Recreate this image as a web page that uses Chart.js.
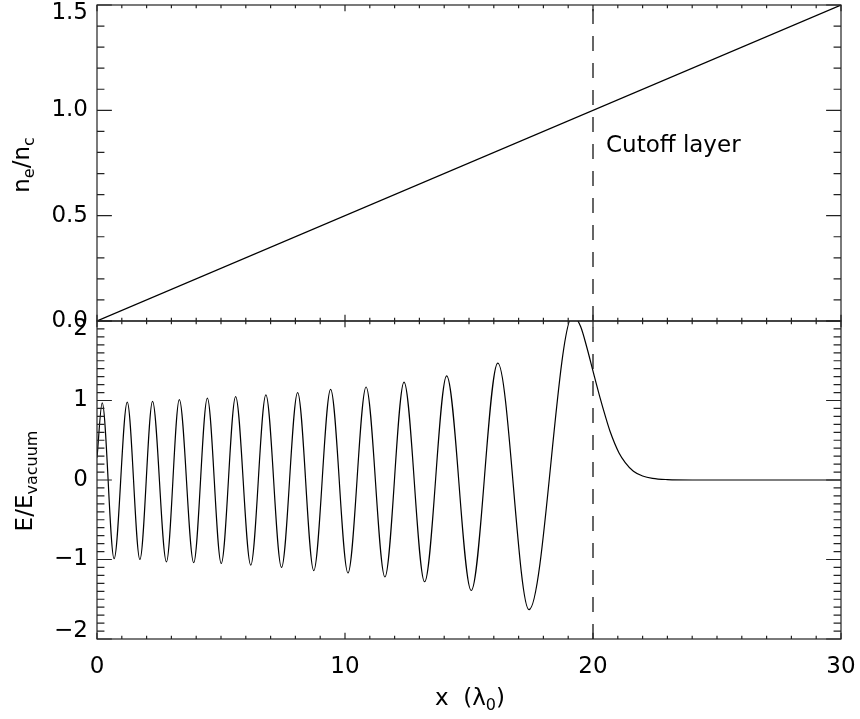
<!DOCTYPE html>
<html>
<head>
<meta charset="utf-8">
<script src="https://cdn.jsdelivr.net/npm/chart.js@4.4.1/dist/chart.umd.min.js"></script>
<style>
  html, body { margin: 0; padding: 0; background: #fff; }
  #wrap { position: relative; width: 860px; height: 719px; }
  #wrap canvas { position: absolute; left: 0; top: 0; }
</style>
</head>
<body>
<div id="wrap">
  <canvas id="top-chart" width="860" height="719"></canvas>
  <canvas id="bottom-chart" width="860" height="719"></canvas>
</div>
<script>
// ── Data ────────────────────────────────────────────────────────────────────
const xTicks       = [0, 10, 20, 30];
const densityTicks = [0, 0.5, 1.0, 1.5];
const fieldTicks   = [-2, -1, 0, 1, 2];
const cutoffX      = 20;

// n_e / n_c : linear ramp
const densityX = [0, 30];
const densityY = [0, 1.5];

// E / E_vacuum : extrema, then the evanescent tail past the cutoff
const fieldX = [0, 0.21, 0.69, 1.22, 1.73, 2.24, 2.80, 3.32, 3.90, 4.45, 5.01, 5.59, 6.20,
                6.81, 7.44, 8.09, 8.74, 9.42, 10.12, 10.85, 11.61, 12.38, 13.21, 14.10,
                15.09, 16.16, 17.42, 19.19, 19.5, 19.75, 20.0, 20.28, 20.5, 20.69, 21.05,
                21.3, 21.63, 22.0, 22.4, 23.0, 24.0, 30];
const fieldY = [0.28, 0.97, -0.99, 0.98, -1.00, 0.99, -1.03, 1.01, -1.04, 1.03, -1.05, 1.05, -1.07,
                1.07, -1.10, 1.10, -1.14, 1.14, -1.17, 1.17, -1.22, 1.23, -1.28, 1.31,
                -1.39, 1.47, -1.63, 2.07, 1.93, 1.67, 1.37, 1.04, 0.80, 0.61, 0.34,
                0.22, 0.11, 0.05, 0.02, 0.005, 0.0, 0.0];

const pts = (xs, ys) => xs.map((x, i) => ({ x, y: ys[i] }));

Chart.defaults.font.family = "'DejaVu Sans', sans-serif";
Chart.defaults.font.size = 23;
Chart.defaults.color = '#000';

// ── Plugins ─────────────────────────────────────────────────────────────────
// IDL-style frame: box round the plot with inward major/minor ticks on all sides.
const frameTicks = {
  id: 'frameTicks',
  afterDraw(chart, args, opts) {
    const { ctx, chartArea: a, scales: { x, y } } = chart;
    const w = a.right - a.left, h = a.bottom - a.top;
    ctx.save();
    ctx.strokeStyle = '#222';
    ctx.lineWidth = 1.2;
    ctx.strokeRect(a.left, a.top, w, h);
    ctx.beginPath();
    const each = (scale, minor, fn) => {
      const major = scale.options.ticks.stepSize;
      const n = Math.round((scale.max - scale.min) / minor);
      for (let i = 0; i <= n; i++) {
        const v = scale.min + i * minor;
        const isMajor = Math.abs(v / major - Math.round(v / major)) < 1e-6;
        fn(scale.getPixelForValue(v), isMajor);
      }
    };
    each(x, opts.xMinor, (px, major) => {
      const len = h * 0.02 * (major ? 1 : 0.5);
      ctx.moveTo(px, a.bottom); ctx.lineTo(px, a.bottom - len);
      ctx.moveTo(px, a.top);    ctx.lineTo(px, a.top + len);
    });
    each(y, opts.yMinor, (py, major) => {
      const len = w * 0.02 * (major ? 1 : 0.5);
      ctx.moveTo(a.left, py);  ctx.lineTo(a.left + len, py);
      ctx.moveTo(a.right, py); ctx.lineTo(a.right - len, py);
    });
    ctx.stroke();
    ctx.restore();
  }
};

// Text with subscripts: parts = [[text, isSub], ...], centred on (cx, cy).
function drawRich(ctx, parts, cx, cy, rotate) {
  const main = "23px 'DejaVu Sans', sans-serif";
  const sub  = "16px 'DejaVu Sans', sans-serif";
  ctx.save();
  ctx.translate(cx, cy);
  if (rotate) ctx.rotate(-Math.PI / 2);
  let total = 0;
  for (const [t, s] of parts) { ctx.font = s ? sub : main; total += ctx.measureText(t).width; }
  let xx = -total / 2;
  ctx.fillStyle = '#000';
  ctx.textBaseline = 'alphabetic';
  for (const [t, s] of parts) {
    ctx.font = s ? sub : main;
    ctx.fillText(t, xx, s ? 5 : 0);
    xx += ctx.measureText(t).width;
  }
  ctx.restore();
}

const topLabels = {
  id: 'topLabels',
  afterDraw(chart) {
    const { ctx, scales: { x, y } } = chart;
    drawRich(ctx, [['n', 0], ['e', 1], ['/', 0], ['n', 0], ['c', 1]], 29, 165, true);
    ctx.save();
    ctx.font = "23px 'DejaVu Sans', sans-serif";
    ctx.fillStyle = '#000';
    ctx.fillText('Cutoff layer', x.getPixelForValue(cutoffX) + 13, y.getPixelForValue(0.8));
    ctx.restore();
  }
};

const bottomLabels = {
  id: 'bottomLabels',
  afterDraw(chart) {
    const { ctx } = chart;
    drawRich(ctx, [['E/E', 0], ['vacuum', 1]], 32, 481, true);
    drawRich(ctx, [['x  (λ', 0], ['0', 1], [')', 0]], 470, 705, false);
  }
};

// ── Shared pieces ───────────────────────────────────────────────────────────
const fmtMinus = v => (v < 0 ? '\u2212' + Math.abs(v) : String(v));

// keep label overhang from shrinking the plot box
const noOverhang = s => { s.paddingTop = 0; s.paddingBottom = 0; s.paddingLeft = 0; s.paddingRight = 0; };

function xScale(showLabels) {
  return {
    type: 'linear', min: 0, max: 30,
    display: showLabels,
    grid: { display: false, drawTicks: false },
    border: { display: false },
    afterBuildTicks: s => { s.ticks = xTicks.map(value => ({ value })); },
    afterFit: s => { noOverhang(s); s.height = showLabels ? 80 : 0; },
    ticks: { stepSize: 10, padding: 14, maxRotation: 0, autoSkip: false, color: '#000' }
  };
}

function yScale(min, max, step, ticks, lineHeight, callback) {
  return {
    type: 'linear', min, max,
    grid: { display: false, drawTicks: false },
    border: { display: false },
    afterBuildTicks: s => { s.ticks = ticks.map(value => ({ value })); },
    afterFit: s => { noOverhang(s); s.width = 97; },
    ticks: { stepSize: step, padding: 9, color: '#000', font: { lineHeight }, callback }
  };
}

function dashed(ys) {
  return {
    data: pts([cutoffX, cutoffX], ys),
    borderColor: '#000', borderWidth: 1.2, borderDash: [15, 12],
    pointRadius: 0, tension: 0
  };
}

// ── Top panel: density ──────────────────────────────────────────────────────
new Chart(document.getElementById('top-chart'), {
  type: 'line',
  data: {
    datasets: [
      { data: pts(densityX, densityY), borderColor: '#000', borderWidth: 1.2, pointRadius: 0, tension: 0 },
      dashed([0, 1.5])
    ]
  },
  options: {
    responsive: false, animation: false, events: [],
    layout: { padding: { top: 5, right: 19, bottom: 398, left: 0 } },
    plugins: { legend: { display: false }, tooltip: { enabled: false },
               frameTicks: { xMinor: 1, yMinor: 0.1 } },
    scales: {
      x: xScale(false),
      y: yScale(0, 1.5, 0.5, densityTicks, '17px',
                v => (v === 1.5 ? ['', v.toFixed(1)] : v.toFixed(1)))
    }
  },
  plugins: [frameTicks, topLabels]
});

// ── Bottom panel: field ─────────────────────────────────────────────────────
new Chart(document.getElementById('bottom-chart'), {
  type: 'line',
  data: {
    datasets: [
      { data: pts(fieldX, fieldY), borderColor: '#000', borderWidth: 1.2, pointRadius: 0,
        cubicInterpolationMode: 'monotone' },
      dashed([-2, 2])
    ]
  },
  options: {
    responsive: false, animation: false, events: [],
    layout: { padding: { top: 321, right: 19, bottom: 0, left: 0 } },
    plugins: { legend: { display: false }, tooltip: { enabled: false },
               frameTicks: { xMinor: 1, yMinor: 0.1 } },
    scales: {
      x: xScale(true),
      y: yScale(-2, 2, 1, fieldTicks, '16px',
                v => (v === 2 ? ['', fmtMinus(v)] : v === -2 ? [fmtMinus(v), ''] : fmtMinus(v)))
    }
  },
  plugins: [frameTicks, bottomLabels]
});
</script>
</body>
</html>
